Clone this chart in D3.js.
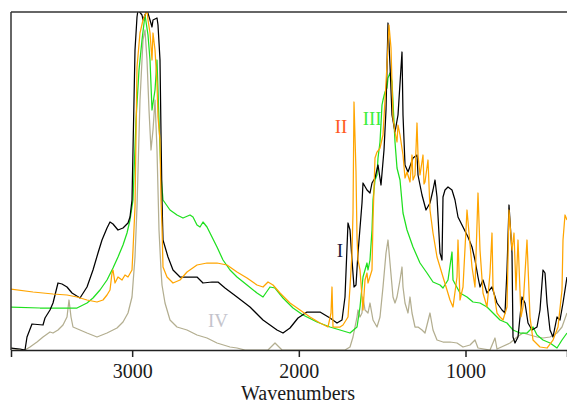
<!DOCTYPE html>
<html><head><meta charset="utf-8">
<script src="https://cdn.jsdelivr.net/npm/d3@7"></script>
<style>body{margin:0;background:#fff}svg{display:block}</style>
</head><body>
<script>
// Spectrum I (black)
const wnI = [3727,3673,3643,3631,3601,3535,3523,3493,3475,3445,3421,3391,3361,3313,3271,3235,3205,3181,3151,3133,3115,3085,3055,3025,3013,3001,2995,2983,2971,2965,2941,2935,2911,2893,2881,2875,2851,2845,2833,2827,2821,2815,2785,2755,2713,2671,2611,2575,2521,2485,2443,2371,2293,2215,2131,2095,2053,2005,1951,1873,1813,1771,1741,1723,1705,1693,1681,1669,1657,1645,1621,1615,1591,1573,1561,1543,1525,1507,1489,1477,1465,1453,1441,1423,1405,1381,1375,1363,1345,1315,1291,1285,1261,1237,1213,1195,1183,1171,1153,1141,1135,1123,1105,1081,1063,1045,1015,985,961,943,925,913,895,871,841,811,781,763,751,739,721,715,703,685,661,643,625,601,571,553,535,523,511,493,475,451,433,415,391];
const absI = [0.02,0.01,0.00,0.13,0.26,0.25,0.32,0.40,0.47,0.67,0.66,0.63,0.57,0.52,0.63,0.80,0.97,1.10,1.22,1.28,1.26,1.20,1.22,1.27,1.33,1.50,2.00,3.00,3.33,3.40,3.35,3.30,3.40,3.30,3.23,3.30,3.32,3.25,2.90,2.17,1.50,1.10,0.93,0.80,0.73,0.73,0.73,0.67,0.68,0.68,0.62,0.53,0.43,0.30,0.20,0.17,0.22,0.32,0.38,0.38,0.32,0.27,0.30,0.53,1.27,1.20,0.90,0.63,0.65,0.97,1.47,1.67,1.60,1.57,1.67,1.72,1.85,1.65,2.00,2.40,3.27,2.85,2.35,2.18,2.35,2.98,2.35,1.85,1.78,1.92,1.95,1.75,1.55,1.40,1.47,1.60,1.70,1.53,0.97,0.90,1.53,1.60,1.63,1.60,1.50,1.33,1.23,1.13,1.03,0.90,0.73,0.63,0.70,0.57,0.63,0.47,0.40,0.37,0.80,1.45,0.97,0.13,0.07,0.13,0.53,0.47,0.27,0.20,0.23,0.40,0.80,0.77,0.47,0.20,0.13,0.33,0.30,0.47,0.73];

// Spectrum II (orange)
const wnII = [3727,3595,3475,3391,3331,3271,3211,3175,3151,3133,3121,3115,3103,3085,3061,3043,3025,3001,2995,2983,2971,2953,2935,2911,2905,2893,2881,2875,2863,2851,2845,2833,2827,2821,2815,2791,2755,2713,2671,2611,2551,2491,2431,2371,2311,2251,2215,2185,2155,2113,2053,1993,1933,1873,1825,1807,1801,1795,1753,1735,1705,1693,1681,1675,1669,1657,1651,1645,1633,1621,1615,1603,1591,1585,1561,1555,1543,1531,1513,1495,1471,1459,1447,1435,1423,1411,1405,1393,1375,1363,1351,1333,1321,1315,1303,1291,1285,1273,1255,1249,1243,1225,1213,1195,1171,1153,1135,1111,1093,1075,1051,1045,1033,1015,991,979,961,943,925,913,895,871,853,841,835,811,793,775,751,739,721,709,697,685,667,655,631,613,595,553,511,475,445,421,415,403,391];
const absII = [0.61,0.58,0.56,0.55,0.53,0.50,0.48,0.50,0.55,0.60,0.77,0.80,0.67,0.73,0.70,0.75,0.73,0.80,1.00,1.43,2.83,3.17,3.30,3.40,3.30,3.17,2.90,3.17,3.00,2.67,2.33,2.10,1.50,1.23,0.83,0.73,0.67,0.70,0.78,0.85,0.87,0.87,0.85,0.78,0.72,0.65,0.63,0.68,0.65,0.57,0.47,0.40,0.33,0.27,0.23,0.37,0.63,0.23,0.23,0.25,0.33,0.63,0.97,1.37,2.48,1.78,1.13,0.90,0.80,0.53,0.40,0.70,0.77,0.67,0.80,1.30,1.92,1.98,2.02,2.15,2.85,3.25,3.02,2.32,2.18,2.08,2.25,2.15,1.95,1.72,1.78,1.68,1.95,1.70,1.75,2.27,1.95,1.75,1.95,1.66,1.68,1.90,1.40,1.17,0.93,0.83,0.73,0.60,0.50,0.43,0.73,1.10,0.50,0.63,1.40,1.17,0.83,0.63,1.57,1.00,0.57,0.43,0.77,1.17,0.63,0.37,0.33,0.30,0.43,1.40,1.00,1.17,0.60,1.10,0.33,0.43,1.10,0.33,0.10,0.03,0.02,0.10,0.23,0.60,1.10,1.35,1.30];

// Spectrum III (green)
const wnIII = [3727,3553,3331,3271,3235,3193,3151,3115,3085,3055,3031,3013,2995,2977,2959,2941,2923,2905,2893,2881,2863,2851,2839,2827,2815,2773,2731,2695,2653,2635,2611,2593,2575,2551,2533,2491,2455,2413,2371,2311,2251,2215,2173,2143,2095,2035,1975,1891,1813,1753,1693,1651,1633,1615,1591,1585,1573,1561,1555,1543,1531,1525,1513,1501,1495,1483,1471,1465,1453,1441,1435,1423,1411,1393,1375,1351,1315,1273,1231,1195,1153,1135,1105,1081,1075,1033,991,955,913,871,835,793,751,715,673,631,595,571,535,493,451,421,391];
const absIII = [0.43,0.42,0.42,0.47,0.52,0.60,0.70,0.82,0.93,1.05,1.17,1.30,1.50,2.30,2.80,3.10,3.35,3.15,2.90,2.40,2.60,2.90,2.30,1.75,1.50,1.40,1.35,1.32,1.35,1.33,1.25,1.23,1.28,1.23,1.17,1.03,0.90,0.80,0.73,0.65,0.57,0.53,0.63,0.62,0.52,0.42,0.35,0.28,0.23,0.20,0.17,0.23,0.43,0.73,0.87,0.80,0.90,1.20,1.50,1.70,1.75,1.92,2.08,2.45,2.50,2.58,2.62,2.72,2.77,2.68,2.48,2.08,1.82,1.70,1.37,1.20,1.03,0.87,0.77,0.68,0.65,0.62,0.70,0.98,0.70,0.57,0.53,0.48,0.47,0.43,0.37,0.30,0.27,0.20,0.17,0.17,0.23,0.15,0.10,0.07,0.02,0.10,0.17];

// Spectrum IV (grey-khaki)
const wnIV = [3727,3673,3643,3613,3571,3535,3493,3475,3445,3415,3391,3379,3367,3355,3313,3271,3211,3151,3091,3055,3025,3001,2983,2971,2953,2935,2923,2911,2899,2887,2875,2863,2851,2839,2827,2821,2803,2773,2731,2671,2611,2551,2491,2413,2371,2323,2185,2143,2101,1723,1693,1675,1651,1645,1633,1621,1615,1603,1585,1573,1555,1531,1513,1495,1477,1465,1453,1435,1423,1411,1393,1381,1375,1363,1345,1333,1321,1303,1285,1261,1243,1213,1195,1171,1135,1093,1051,1015,973,943,925,853,823,811,733,691,655,613,571,535,493,451,421,391];
const absIV = [0.02,0.00,0.00,0.03,0.08,0.13,0.18,0.17,0.20,0.25,0.33,0.50,0.33,0.23,0.20,0.17,0.13,0.17,0.22,0.28,0.37,0.53,0.93,1.43,2.50,3.10,3.20,2.90,2.40,2.00,2.20,2.50,2.00,1.20,0.80,0.65,0.47,0.30,0.23,0.20,0.15,0.12,0.07,0.03,0.02,0.00,0.00,0.07,0.00,0.00,0.03,0.13,0.33,0.40,0.33,0.37,0.53,0.40,0.37,0.47,0.30,0.23,0.33,0.63,0.97,1.10,0.87,0.53,0.47,0.53,0.70,0.83,0.63,0.47,0.37,0.53,0.37,0.23,0.23,0.20,0.17,0.37,0.20,0.10,0.08,0.08,0.07,0.03,0.05,0.10,0.02,0.00,0.12,0.01,0.07,0.13,0.17,0.15,0.13,0.12,0.13,0.17,0.23,0.37];

const xTicks = [3000, 2000, 1000];
const xTitle = "Wavenumbers";
const seriesNames = ["I", "II", "III", "IV"];

const W = 567, H = 405;
const svg = d3.select("body").append("svg").attr("width", W).attr("height", H);
const x = d3.scaleLinear().domain([3727, 391]).range([11, 567]);
const y = d3.scaleLinear().domain([0, 3.38]).range([350, 12]);

svg.append("clipPath").attr("id", "clip").append("rect")
  .attr("x", 11).attr("y", 12).attr("width", 556).attr("height", 338);

const line = d3.line().x(d => x(d[0])).y(d => y(d[1]));
const series = [
  {wn: wnIV, ab: absIV, color: "#b3ae90"},
  {wn: wnIII, ab: absIII, color: "#1fe01f"},
  {wn: wnI, ab: absI, color: "#000000"},
  {wn: wnII, ab: absII, color: "#ffa500"}
];
const g = svg.append("g").attr("clip-path", "url(#clip)");
series.forEach(s => {
  g.append("path").datum(s.wn.map((w, i) => [w, s.ab[i]]))
    .attr("d", line).attr("fill", "none").attr("stroke", s.color)
    .attr("stroke-width", 1.25).attr("stroke-linejoin", "round");
});

// frame
svg.append("line").attr("x1", 11).attr("x2", 11).attr("y1", 12).attr("y2", 350).attr("stroke", "#333").attr("stroke-width", 1.5);
svg.append("line").attr("x1", 11).attr("x2", 567).attr("y1", 12).attr("y2", 12).attr("stroke", "#333").attr("stroke-width", 1.5);

const ax = svg.append("g").attr("transform", "translate(0,350)")
  .call(d3.axisBottom(x).tickValues(xTicks).tickFormat(d3.format("d")).tickSizeOuter(0).tickSize(7).tickPadding(7));
ax.select(".domain").attr("stroke", "#222").attr("stroke-width", 1.5);
ax.selectAll(".tick line").attr("stroke", "#222").attr("stroke-width", 1.5);
ax.selectAll(".tick text").attr("font-family", "'Liberation Serif', 'Times New Roman', serif").attr("font-size", 20).attr("fill", "#1a1a1a");

svg.append("text").attr("x", 298).attr("y", 400).attr("text-anchor", "middle")
  .attr("font-family", "'Liberation Serif', 'Times New Roman', serif").attr("font-size", 20).attr("fill", "#1a1a1a").text(xTitle);

const labels = [
  {t: seriesNames[0], wn: 1773, a: 0.93, c: "#1c1c44"},
  {t: seriesNames[1], wn: 1785, a: 2.17, c: "#ff5a1e"},
  {t: seriesNames[2], wn: 1617, a: 2.25, c: "#3cee3c"},
  {t: seriesNames[3], wn: 2545, a: 0.23, c: "#c4c4cc"}
];
labels.forEach(l => {
  svg.append("text").attr("x", x(l.wn)).attr("y", y(l.a))
    .attr("font-family", "'Liberation Serif', 'Times New Roman', serif").attr("font-size", 19)
    .attr("fill", l.c).text(l.t);
});
</script>
</body></html>
